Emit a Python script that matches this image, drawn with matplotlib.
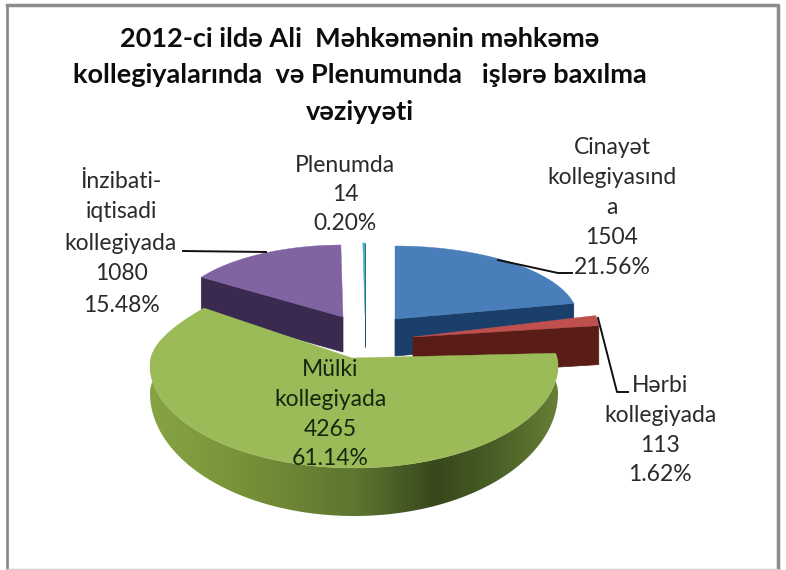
import numpy as np
import matplotlib
matplotlib.use("Agg")
import matplotlib.pyplot as plt
from matplotlib.colors import LinearSegmentedColormap
from matplotlib.patches import Polygon

plt.rcParams["font.family"] = ["Lato", "Noto Sans", "DejaVu Sans"]

title_lines = ["2012-ci ildə Ali  Məhkəmənin məhkəmə",
               "kollegiyalarında  və Plenumunda   işlərə baxılma",
               "vəziyyəti"]
names = ["Cinayət\nkollegiyasınd\na", "Hərbi\nkollegiyada", "Mülki\nkollegiyada",
         "İnzibati-\niqtisadi\nkollegiyada", "Plenumda"]
values = [1504, 113, 4265, 1080, 14]
percents = ["21.56%", "1.62%", "61.14%", "15.48%", "0.20%"]

top_colors = ["#4a7ebb", "#c0504d", "#9bbb59", "#8064a2", "#4bacc6"]
side_colors = ["#1b3f6b", "#5a1c16", "#5f7a30", "#3a2a50", "#1f5a6b"]

# slice geometry in picture pixels
# cx, cy, rx, ry, back shrink, depth, front extra depth
geom = [
    (395, 319, 183, 73, 0.0, 37, 0),
    (413, 337, 187, 100, 0.0, 39, 0),
    (354, 365, 204, 103, 0.44, 28, 20),
    (343, 317, 170, 72, 0.0, 35, 0),
    (365, 315, 170, 72, 0.0, 32, 0),
]
apexes = [(395, 319), (413, 337), (352, 358), (343, 317), (365, 315)]

label_pos = [(612, 147), (660, 386), (330, 370), (121, 181), (345, 165)]
label_gap = [30.0, 29.5, 29.5, 31.0, 29.5]
leaders = [[(498, 260), (558, 273), (572, 273)],
           [(598, 318), (617, 392), (628, 392)],
           [(183, 251), (266, 252)]]
leader_slices = [0, 1, 3]


def rim(i, angles):
    cx, cy, rx, ry, k, d0, d1 = geom[i]
    t = np.radians(angles)
    c, s = np.cos(t), np.sin(t)
    shrink = 1 + k * np.clip(c, 0, None) ** 2
    x = cx + rx * s / shrink
    y = cy - ry * c
    depth = d0 + d1 * np.clip(-c, 0, None)
    return x, y, depth


fig = plt.figure(figsize=(7.86, 5.70), dpi=100)
ax = fig.add_axes([0, 0, 1, 1])
ax.set_xlim(0, 786)
ax.set_ylim(570, 0)
ax.axis("off")

edges = np.concatenate([[0], np.cumsum(values) / np.sum(values) * 360])


def draw_slice(i):
    a0, a1 = edges[i], edges[i + 1]
    ang = np.linspace(a0, a1, 200)
    x, y, depth = rim(i, ang)
    ax_, ay_ = apexes[i]
    # radial cut that faces the viewer
    if i == 3:
        fx, fy, fd = x[0], y[0], depth[0]
    else:
        fx, fy, fd = x[-1], y[-1], depth[-1]
    d0 = geom[i][5]
    ax.add_patch(Polygon([(ax_, ay_), (fx, fy), (fx, fy + fd), (ax_, ay_ + d0)],
                         fc=side_colors[i], ec=side_colors[i], lw=0.5, zorder=2 + i * 0.1))
    ax.add_patch(Polygon(np.r_[[(ax_, ay_)], np.c_[x, y]], fc=top_colors[i],
                         ec=top_colors[i], lw=0.4 if i == 4 else 0.3, zorder=3 + i * 0.1))


for i in [3, 4, 0, 1]:
    draw_slice(i)

# mülki: curved shaded wall, then top
ang = np.linspace(edges[2], min(edges[3], 285), 300)
x, y, depth = rim(2, ang)
wall = Polygon(np.r_[np.c_[x, y], np.c_[x, y + depth][::-1]], fc="none", ec="none", zorder=4)
ax.add_patch(wall)
cmap = LinearSegmentedColormap.from_list(
    "wall", [(0, "#86a444"), (0.2, "#7a9439"), (0.5, "#5d7631"),
             (0.7, "#37481c"), (0.85, "#4a5f26"), (1, "#667f35")])
im = ax.imshow(np.linspace(0, 1, 256)[None, :], cmap=cmap, aspect="auto",
               extent=(x.min(), x.max(), 570, 0), zorder=4)
im.set_clip_path(wall)
ax.set_xlim(0, 786)
ax.set_ylim(570, 0)

ang = np.linspace(edges[2], edges[3], 300)
x, y, _ = rim(2, ang)
ax.add_patch(Polygon(np.r_[[apexes[2]], np.c_[x, y]], fc=top_colors[2],
                     ec=top_colors[2], lw=0.3, zorder=5))

for pts, i in zip(leaders, leader_slices):
    ax.plot(*zip(*pts), color="#111111", lw=1.4, zorder=6)

for i, name in enumerate(names):
    lines = name.split("\n") + [str(values[i]), percents[i]]
    lx, ly = label_pos[i]
    color = "#14280f" if i == 2 else "#2a2a2a"
    for j, line in enumerate(lines):
        ax.text(lx, ly + j * label_gap[i], line, ha="center", va="center",
                fontsize=16.5, color=color, zorder=7)

for line, ty in zip(title_lines, [39, 75, 112]):
    ax.text(360, ty, line, ha="center", va="center", fontsize=19.5,
            fontweight="bold", color="#0d0d0d", zorder=7)

# picture frame
ax.plot([7, 7], [5, 570], color="#8c8c8c", lw=2, zorder=8)
ax.plot([7, 778, 778], [5, 5, 570], color="#8c8c8c", lw=2.5, zorder=8)
ax.plot([7, 778], [569, 569], color="#d0d0d0", lw=1, zorder=8)

fig.savefig("out.png", dpi=100)
